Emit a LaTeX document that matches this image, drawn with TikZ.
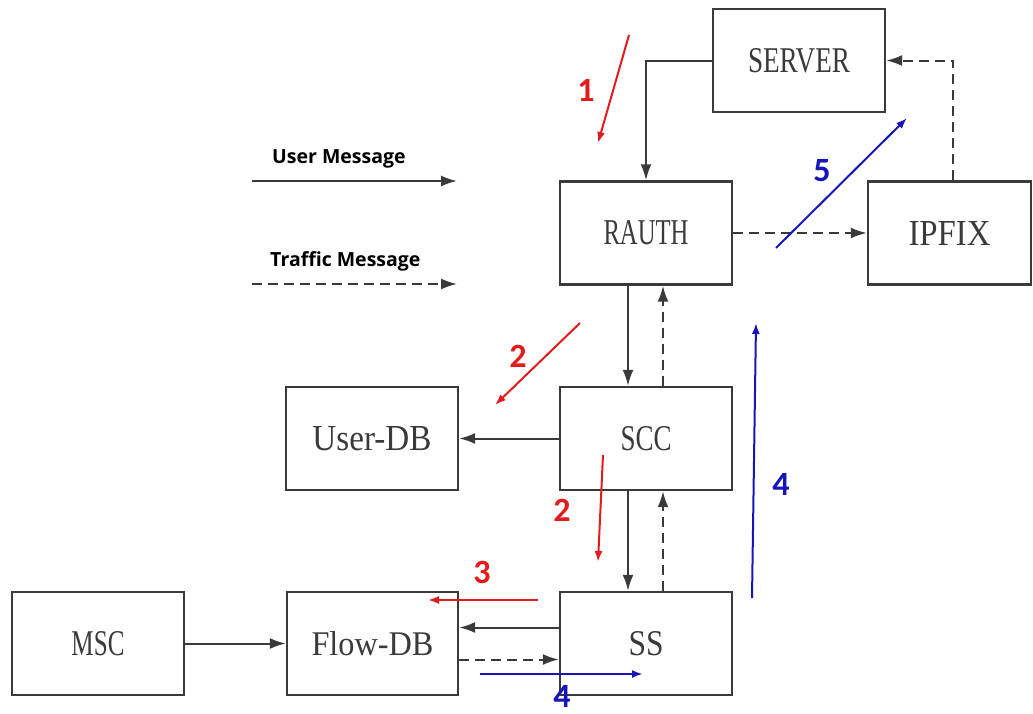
\documentclass[tikz,border=0pt]{standalone}
\usepackage{fontspec}
\usepackage{graphicx}
\setmainfont{Liberation Serif}
\newfontfamily\legendfont{Open Sans}
\newfontfamily\stepfont{Carlito}
\usetikzlibrary{arrows.meta}
\definecolor{ink}{HTML}{3A3A3A}
\definecolor{stepred}{HTML}{E21C1C}
\definecolor{stepblue}{HTML}{1616B8}
% block captions are squeezed to a fixed width and cap height
\newcommand{\boxlabel}[2]{\resizebox{#1}{24pt}{#2}}

\begin{document}
\begin{tikzpicture}[x=1pt,y=-1pt,
  block/.style={draw=ink, line width=2.4pt, minimum width=172pt,
    minimum height=103pt, inner sep=0pt, text=ink},
  user/.style={ink, line width=2pt, -{Latex[length=16pt,width=11pt]}},
  traffic/.style={user, dash pattern=on 10pt off 6pt},
  redstep/.style={stepred, line width=2pt, -{Latex[length=11pt,width=8pt]}},
  bluestep/.style={stepblue, line width=2pt, -{Latex[length=11pt,width=8pt]}},
  legendtext/.style={anchor=base west, inner sep=0pt, text=black,
    font=\legendfont\bfseries\fontsize{19.5}{19.5}\selectfont},
  redlabel/.style={text=stepred, inner sep=0pt, text depth=0pt,
    font=\stepfont\bfseries\fontsize{34}{34}\selectfont},
  bluelabel/.style={redlabel, text=stepblue}
]
\useasboundingbox (0,0) rectangle (1033,713);

% components
\node[block] (srv)   at (799,60.5)   {\boxlabel{102pt}{SERVER}};
\node[block] (rauth) at (646,233)    {\boxlabel{85pt}{RAUTH}};
\node[block, minimum width=163pt] (ipfix) at (949.5,233) {\boxlabel{82pt}{IPFIX}};
\node[block] (scc)   at (646,438.5)  {\boxlabel{51pt}{SCC}};
\node[block] (udb)   at (372,438.5)  {\boxlabel{119pt}{User-DB}};
\node[block] (ss)    at (646,643.5)  {\boxlabel{35pt}{SS}};
\node[block, minimum width=171pt] (fdb) at (372.5,643.5) {\boxlabel{122pt}{Flow-DB}};
\node[block] (msc)   at (98,643.5)   {\boxlabel{53pt}{MSC}};

% user messages
\draw[user] (srv.west) -| (rauth.north);
\draw[user] ([xshift=-18pt]rauth.south) -- ([xshift=-18pt]scc.north);
\draw[user] (scc.west) -- (udb.east);
\draw[user] ([xshift=-18pt]scc.south) -- ([xshift=-18pt]ss.north);
\draw[user] ([yshift=16pt]ss.west) -- ([yshift=16pt]fdb.east);
\draw[user] (msc.east) -- (fdb.west);

% traffic messages
\draw[traffic] (rauth.east) -- (ipfix.west);
\draw[traffic] ([xshift=3.5pt]ipfix.north) |- (srv.east);
\draw[traffic] ([xshift=17pt]scc.north) -- ([xshift=17pt]rauth.south);
\draw[traffic] ([xshift=17pt]ss.north) -- ([xshift=17pt]scc.south);
\draw[traffic] ([yshift=-16pt]fdb.east) -- ([yshift=-16pt]ss.west);

% legend
\coordinate (uA) at (252,181);
\coordinate (uB) at (457,181);
\coordinate (tA) at (252,284);
\coordinate (tB) at (457,284);
\node[legendtext] (uText) at (272,163) {User Message};
\node[legendtext] (tText) at (270,266) {Traffic Message};
\draw[user] (uA) -- (uB);
\draw[traffic] (tA) -- (tB);

% numbered steps
\coordinate (s1a) at (629,35);   \coordinate (s1b) at (598,143);
\coordinate (s2a) at (580,323);  \coordinate (s2b) at (495,405);
\coordinate (s2c) at (603,455);  \coordinate (s2d) at (598,562);
\coordinate (s3a) at (538,600);  \coordinate (s3b) at (428,600);
\coordinate (s4a) at (480,674);  \coordinate (s4b) at (643,674);
\coordinate (s4c) at (752,598);  \coordinate (s4d) at (756,323);
\coordinate (s5a) at (776,248);  \coordinate (s5b) at (907,118);

\draw[redstep] (s1a) -- (s1b);
\draw[redstep] (s2a) -- (s2b);
\draw[redstep] (s2c) -- (s2d);
\draw[redstep] (s3a) -- (s3b);
\draw[bluestep] (s4a) -- (s4b);
\draw[bluestep] (s4c) -- (s4d);
\draw[bluestep] (s5a) -- (s5b);

\node[redlabel]  (n1)  at (586,90)  {1};
\node[redlabel]  (n2a) at (518,356) {2};
\node[redlabel]  (n2b) at (562,510) {2};
\node[redlabel]  (n3)  at (482,572) {3};
\node[bluelabel] (n4a) at (781,484) {4};
\node[bluelabel] (n4b) at (562,696) {4};
\node[bluelabel] (n5)  at (822,170) {5};
\end{tikzpicture}
\end{document}
